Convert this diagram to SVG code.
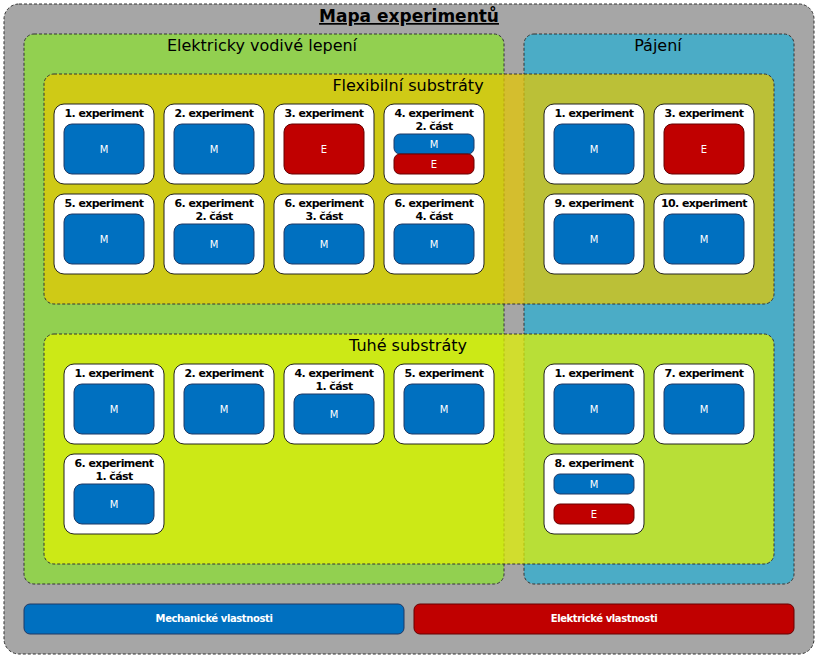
<svg xmlns="http://www.w3.org/2000/svg" width="818" height="658" viewBox="0 0 818 658">
<style>
.d{stroke:#333;stroke-width:1;stroke-dasharray:3,2}
.c{fill:#fff;stroke:#222;stroke-width:1}
.m{fill:#0070c0;stroke:#1f3864;stroke-width:1}
.e{fill:#c00000;stroke:#600;stroke-width:1}
.t{font-family:Verdana,"DejaVu Sans",sans-serif;font-size:11px;font-weight:bold;text-anchor:middle;fill:#000;letter-spacing:-0.6px}
.w{font-family:Verdana,"DejaVu Sans",sans-serif;font-size:10px;text-anchor:middle;fill:#fff}
.h{font-family:Verdana,"DejaVu Sans",sans-serif;font-size:16px;text-anchor:middle;fill:#000}
</style>
<defs>
<g id="c1"><rect class="c" x="0" y="0" width="100" height="80" rx="10"/></g>
</defs>
<rect x="4" y="4" width="810" height="650" rx="15" fill="#a6a6a6" class="d"/>
<text x="409" y="22" font-family="Verdana,'DejaVu Sans',sans-serif" font-size="17" font-weight="bold" text-anchor="middle" text-decoration="underline">Mapa experimentů</text>
<g id="evl"><rect x="24" y="34" width="480" height="550" rx="10" fill="#92d050" class="d"/><text class="h" x="262" y="51">Elektricky vodivé lepení</text></g>
<g id="paj"><rect x="524" y="34" width="270" height="550" rx="10" fill="#4bacc6" class="d"/><text class="h" x="658" y="51">Pájení</text></g>
<g id="flex"><rect x="44" y="74" width="730" height="230" rx="10" fill="#e6c800" fill-opacity="0.72" class="d"/><text class="h" x="408" y="91">Flexibilní substráty</text></g>
<g id="tuhe"><rect x="44" y="334" width="730" height="230" rx="10" fill="#e2f200" fill-opacity="0.72" class="d"/><text class="h" x="408" y="351">Tuhé substráty</text></g>

<g id="f1"><use href="#c1" x="54" y="104"/><text class="t" x="104" y="117">1. experiment</text><rect class="m" x="64" y="124" width="80" height="50" rx="8"/><text class="w" x="104" y="153">M</text></g>
<g id="f2"><use href="#c1" x="164" y="104"/><text class="t" x="214" y="117">2. experiment</text><rect class="m" x="174" y="124" width="80" height="50" rx="8"/><text class="w" x="214" y="153">M</text></g>
<g id="f3"><use href="#c1" x="274" y="104"/><text class="t" x="324" y="117">3. experiment</text><rect class="e" x="284" y="124" width="80" height="50" rx="8"/><text class="w" x="324" y="153">E</text></g>
<g id="f4"><use href="#c1" x="384" y="104"/><text class="t" x="434" y="117">4. experiment</text><text class="t" x="434" y="130">2. část</text><rect class="m" x="394" y="134" width="80" height="20" rx="6"/><text class="w" x="434" y="148">M</text><rect class="e" x="394" y="154" width="80" height="20" rx="6"/><text class="w" x="434" y="168">E</text></g>
<g id="f5"><use href="#c1" x="54" y="194"/><text class="t" x="104" y="207">5. experiment</text><rect class="m" x="64" y="214" width="80" height="50" rx="8"/><text class="w" x="104" y="243">M</text></g>
<g id="f6"><use href="#c1" x="164" y="194"/><text class="t" x="214" y="207">6. experiment</text><text class="t" x="214" y="220">2. část</text><rect class="m" x="174" y="224" width="80" height="40" rx="8"/><text class="w" x="214" y="248">M</text></g>
<g id="f7"><use href="#c1" x="274" y="194"/><text class="t" x="324" y="207">6. experiment</text><text class="t" x="324" y="220">3. část</text><rect class="m" x="284" y="224" width="80" height="40" rx="8"/><text class="w" x="324" y="248">M</text></g>
<g id="f8"><use href="#c1" x="384" y="194"/><text class="t" x="434" y="207">6. experiment</text><text class="t" x="434" y="220">4. část</text><rect class="m" x="394" y="224" width="80" height="40" rx="8"/><text class="w" x="434" y="248">M</text></g>
<g id="pf1"><use href="#c1" x="544" y="104"/><text class="t" x="594" y="117">1. experiment</text><rect class="m" x="554" y="124" width="80" height="50" rx="8"/><text class="w" x="594" y="153">M</text></g>
<g id="pf3"><use href="#c1" x="654" y="104"/><text class="t" x="704" y="117">3. experiment</text><rect class="e" x="664" y="124" width="80" height="50" rx="8"/><text class="w" x="704" y="153">E</text></g>
<g id="pf9"><use href="#c1" x="544" y="194"/><text class="t" x="594" y="207">9. experiment</text><rect class="m" x="554" y="214" width="80" height="50" rx="8"/><text class="w" x="594" y="243">M</text></g>
<g id="pf10"><use href="#c1" x="654" y="194"/><text class="t" x="704" y="207">10. experiment</text><rect class="m" x="664" y="214" width="80" height="50" rx="8"/><text class="w" x="704" y="243">M</text></g>

<g id="t1"><use href="#c1" x="64" y="364"/><text class="t" x="114" y="377">1. experiment</text><rect class="m" x="74" y="384" width="80" height="50" rx="8"/><text class="w" x="114" y="413">M</text></g>
<g id="t2"><use href="#c1" x="174" y="364"/><text class="t" x="224" y="377">2. experiment</text><rect class="m" x="184" y="384" width="80" height="50" rx="8"/><text class="w" x="224" y="413">M</text></g>
<g id="t4"><use href="#c1" x="284" y="364"/><text class="t" x="334" y="377">4. experiment</text><text class="t" x="334" y="390">1. část</text><rect class="m" x="294" y="394" width="80" height="40" rx="8"/><text class="w" x="334" y="418">M</text></g>
<g id="t5"><use href="#c1" x="394" y="364"/><text class="t" x="444" y="377">5. experiment</text><rect class="m" x="404" y="384" width="80" height="50" rx="8"/><text class="w" x="444" y="413">M</text></g>
<g id="t6"><use href="#c1" x="64" y="454"/><text class="t" x="114" y="467">6. experiment</text><text class="t" x="114" y="480">1. část</text><rect class="m" x="74" y="484" width="80" height="40" rx="8"/><text class="w" x="114" y="508">M</text></g>
<g id="pt1"><use href="#c1" x="544" y="364"/><text class="t" x="594" y="377">1. experiment</text><rect class="m" x="554" y="384" width="80" height="50" rx="8"/><text class="w" x="594" y="413">M</text></g>
<g id="pt7"><use href="#c1" x="654" y="364"/><text class="t" x="704" y="377">7. experiment</text><rect class="m" x="664" y="384" width="80" height="50" rx="8"/><text class="w" x="704" y="413">M</text></g>
<g id="pt8"><use href="#c1" x="544" y="454"/><text class="t" x="594" y="467">8. experiment</text><rect class="m" x="554" y="474" width="80" height="20" rx="6"/><text class="w" x="594" y="488">M</text><rect class="e" x="554" y="504" width="80" height="20" rx="6"/><text class="w" x="594" y="518">E</text></g>

<g id="legM"><rect class="m" x="24" y="604" width="380" height="30" rx="6"/><text class="w" x="214" y="622" font-weight="bold" letter-spacing="-0.4">Mechanické vlastnosti</text></g>
<g id="legE"><rect class="e" x="414" y="604" width="380" height="30" rx="6"/><text class="w" x="604" y="622" font-weight="bold" letter-spacing="-0.4">Elektrické vlastnosti</text></g>
<g id="connectors"/>
</svg>
